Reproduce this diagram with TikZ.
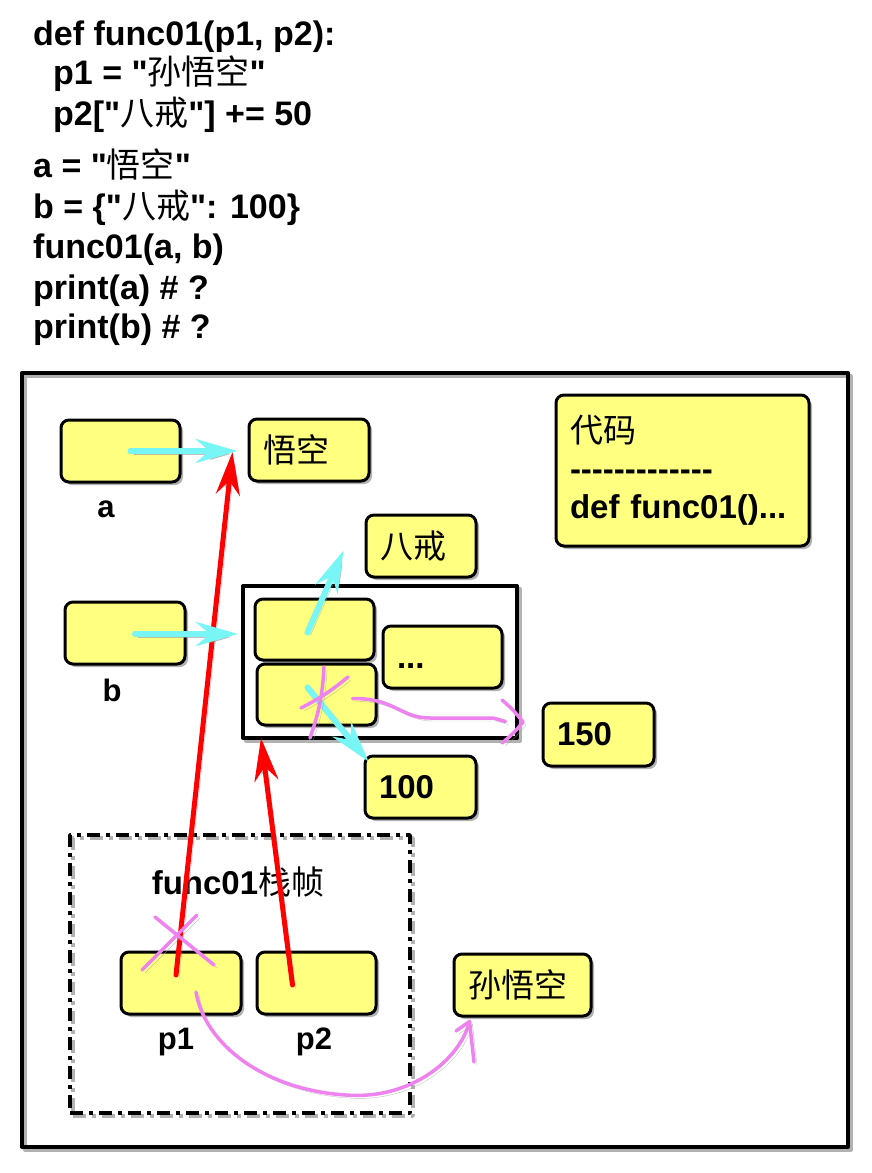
\documentclass[tikz,border=0pt]{standalone}
\usepackage{fontspec}
\setmainfont{Liberation Sans}[Ligatures=TeXOff]
\newfontfamily\cjk{Noto Sans CJK SC}
\usetikzlibrary{arrows.meta,shadows,calc}
\definecolor{yel}{RGB}{255,255,128}
\definecolor{cy}{RGB}{120,245,245}
\definecolor{pk}{RGB}{238,130,238}
\newcommand\zh[1]{{\cjk\mdseries #1}}
\newcommand\hy{-\kern0pt}
\begin{document}
\begin{tikzpicture}[x=1pt,y=-1pt,line join=round,
  codeline/.style={anchor=base west,inner sep=0pt,font=\fontsize{34}{40}\selectfont\bfseries},
  box/.style={draw,line width=3pt,rounded corners=8pt,fill=yel,
    drop shadow={shadow xshift=3pt,shadow yshift=-3pt,fill=black,opacity=0.3},
    minimum height=62pt,inner xsep=14pt,inner ysep=0pt,align=left,
    font=\fontsize{33}{38}\selectfont\bfseries},
  container/.style={draw,line width=4pt,
    general shadow={shadow xshift=3pt,shadow yshift=-3pt,draw=black!30}},
  framebox/.style={draw,line width=3.5pt,dash pattern=on 13pt off 6pt on 4pt off 6pt,
    general shadow={shadow xshift=3pt,shadow yshift=-3pt,draw=black!30}},
  lbl/.style={inner sep=0pt,font=\fontsize{31}{36}\selectfont\bfseries},
  lshadow/.style={preaction={draw=black!40,opacity=0.6,transform canvas={shift={(3pt,-3pt)}}}},
  cyanarrow/.style={lshadow,draw=cy,line width=6pt,line cap=round,-{Stealth[length=42pt,width=24pt,inset=14pt]}},
  redarrow/.style={lshadow,draw=red,line width=5pt,line cap=round,-{Stealth[length=43pt,width=24pt,inset=14pt]}},
  pinkline/.style={lshadow,draw=pk,line width=3.5pt,line cap=round,line join=round}]
\useasboundingbox (0,0) rectangle (872,1173);

% code text
\node[codeline] (c1) at (33,45) {def func01(p1, p2):};
\node[codeline] (c2) at (53,84) {p1 = "\zh{孙悟空}"};
\node[codeline] (c3) at (53,125) {p2["\zh{八戒}"] += 50};
\node[codeline] (c4) at (33,177) {a = "\zh{悟空}"};
\node[codeline] (c5) at (33,218) {b = \{"\zh{八戒}": 100\}};
\node[codeline] (c6) at (33,258) {func01(a, b)};
\node[codeline] (c7) at (33,299) {print(a) \# ?};
\node[codeline] (c8) at (33,338) {print(b) \# ?};

% containers
\node[container,minimum width=826pt,minimum height=774pt] (outer) at (435,760) {};
\node[framebox,minimum width=340pt,minimum height=278pt] (frame) at (240,974) {};
\node[container,fill=white,minimum width=274pt,minimum height=152pt] (dict) at (380,662) {};

% boxes
\node[box,minimum width=119pt] (a) at (120.5,451) {};
\node[box,text width=92pt] (wk) at (309,450) {\zh{悟空}};
\node[box,minimum width=120pt] (b) at (125,633) {};
\node[box,text width=82pt] (bj) at (421,546) {\zh{八戒}};
\node[box,minimum width=119pt,minimum height=61pt] (k1) at (314.5,629.5) {};
\node[box,minimum width=119pt,minimum height=61pt] (k2) at (316.5,694.5) {};
\node[box,text width=91pt] (dots) at (442.5,657) {\vphantom{150}...};
\node[box,text width=83pt,minimum height=63pt] (v150) at (598.5,734.5) {150};
\node[box,text width=83pt] (v100) at (420.5,787) {100};
\node[box,text width=225pt,minimum height=151pt] (code) at (682.5,470.5)
  {\zh{代码}\\\hy\hy\hy\hy\hy\hy\hy\hy\hy\hy\hy\hy\hy\\def func01()...};
\node[box,minimum width=120pt] (p1) at (181,983) {};
\node[box,minimum width=119pt] (p2) at (316.5,983) {};
\node[box,text width=109pt] (swk) at (522.5,985) {\zh{孙悟空}};

% labels
\node[lbl] (la) at (106,509) {a};
\node[lbl] (lb) at (112,690) {b};
\node[lbl] (lp1) at (176,1042) {p1};
\node[lbl] (lp2) at (314,1042) {p2};
\node[inner sep=0pt,font=\fontsize{33}{38}\selectfont\bfseries] (lframe) at (238,882) {func01\zh{栈帧}};

% red arrows
\draw[redarrow] ([xshift=-5pt,yshift=8pt]p1.center) -- ([xshift=-15pt,yshift=-2pt]wk.west);
\draw[redarrow] ([xshift=-24pt,yshift=-2pt]p2.center) -- ([xshift=20pt,yshift=2pt]dict.south west);

% cyan arrows
\draw[cyanarrow] ([xshift=10pt]a.center) -- ([xshift=-10pt,yshift=-1pt]wk.west);
\draw[cyanarrow] ([xshift=10pt,yshift=-1pt]b.center) -- ([xshift=-3pt,yshift=28pt]dict.west);
\draw[cyanarrow] ([xshift=-7pt,yshift=-3pt]k1.center) -- ([xshift=-21pt,yshift=28pt]bj.south west);
\draw[cyanarrow] ([xshift=-9pt,yshift=7pt]k2.center) -- ([xshift=5pt,yshift=-7pt]v100.north west);

% pink marks
\draw[pinkline] (324,667) to[bend left=8] (310,738);
\draw[pinkline] (301,708) to[bend right=6] (348,677);
\coordinate (s1) at ([xshift=36pt,yshift=-4pt]k2.center);
\coordinate (e1) at ([xshift=-36pt,yshift=13pt]v150.west);
\draw[pinkline] (s1) .. controls (395,698) and (400,718) .. (430,718) -- (493,718) -- (e1);
\draw[pinkline] (502,700) to[bend left=6] (523,722) to[bend left=6] (502,743);

\draw[pinkline] (155,917) -- (214,965);
\draw[pinkline] (197,915) -- (142,970);
\coordinate (s2) at ([xshift=15pt,yshift=-9pt]p1.center);
\coordinate (e2) at ([xshift=17pt,yshift=-4pt]swk.south west);
\draw[pinkline] (s2) .. controls (205,1045) and (265,1090) .. (346,1095)
  .. controls (410,1100) and (460,1060) .. (e2);
\draw[pinkline] (456,1031) -- (e2) -- (474,1062);
\end{tikzpicture}
\end{document}
